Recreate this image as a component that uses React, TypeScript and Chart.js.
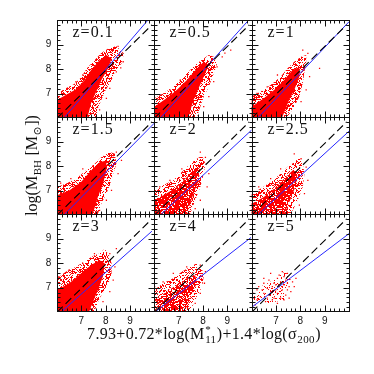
import React, { useEffect, useRef } from "react";
import { Chart, registerables } from "chart.js";

Chart.register(...registerables);

// ---------- data ----------
const Z_LABELS = ["0.1", "0.5", "1", "1.5", "2", "2.5", "3", "4", "5"];
const X_TICK_LABELS = [7, 8, 9];
const Y_TICK_LABELS = [7, 8, 9];
const X_RANGE = [6.0, 10.0];
const Y_RANGE = [6.05, 10.0];
const MINOR_STEP = 0.2;

// dashed reference relation (same in every panel)
const ONE_TO_ONE = [[6.0, 6.0], [9.9, 9.8]];

// blue fitted relation, one per panel
const FIT_LINES = [
  [[6.32, 6.05], [9.74, 10.0]],
  [[6.29, 6.05], [9.88, 10.0]],
  [[6.29, 6.05], [10.0, 9.93]],
  [[6.32, 6.05], [10.0, 9.75]],
  [[6.29, 6.05], [10.0, 9.47]],
  [[6.29, 6.05], [10.0, 9.42]],
  [[6.22, 6.05], [9.9, 9.3]],
  [[6.08, 6.05], [9.97, 9.04]],
  [[6.0, 6.2], [10.0, 9.2]],
];

// outer extent of each point cloud (sparser fringe)
const CLOUD_OUTER = [
  [[6.0, 6.99], [6.29, 7.18], [6.71, 7.39], [6.99, 7.66], [7.22, 8.03], [7.54, 8.36], [7.82, 8.66], [8.17, 8.88], [8.44, 8.93], [8.75, 8.64], [8.65, 8.23], [8.38, 7.89], [8.24, 7.55], [8.0, 7.15], [7.82, 6.74], [7.68, 6.41], [7.61, 6.05], [6.0, 6.05]],
  [[6.0, 6.81], [6.36, 7.01], [6.78, 7.28], [7.13, 7.62], [7.47, 7.96], [7.75, 8.23], [8.03, 8.43], [8.24, 8.57], [8.44, 8.5], [8.58, 8.23], [8.44, 7.82], [8.24, 7.28], [8.03, 6.88], [7.89, 6.47], [7.75, 6.05], [6.0, 6.05]],
  [[6.0, 6.88], [6.36, 7.08], [6.78, 7.35], [7.19, 7.69], [7.47, 8.03], [7.75, 8.3], [8.03, 8.5], [8.24, 8.57], [8.24, 8.3], [8.17, 7.89], [8.1, 7.42], [7.96, 6.88], [7.75, 6.47], [7.47, 6.05], [6.0, 6.05]],
  [[6.0, 7.15], [6.36, 7.28], [6.78, 7.49], [7.19, 7.82], [7.54, 8.09], [7.82, 8.36], [8.17, 8.57], [8.38, 8.5], [8.44, 8.09], [8.31, 7.69], [8.17, 7.22], [8.03, 6.88], [7.82, 6.47], [7.68, 6.05], [6.0, 6.05]],
  [[6.0, 7.01], [6.36, 7.22], [6.78, 7.42], [7.13, 7.76], [7.47, 8.09], [7.75, 8.3], [7.96, 8.43], [8.1, 8.09], [8.03, 7.69], [7.89, 7.15], [7.68, 6.61], [7.47, 6.05], [6.0, 6.05]],
  [[6.0, 6.88], [6.36, 7.08], [6.78, 7.35], [7.19, 7.69], [7.47, 7.96], [7.75, 8.16], [7.96, 8.36], [8.1, 8.09], [8.17, 7.69], [8.1, 7.15], [7.89, 6.61], [7.61, 6.05], [6.0, 6.05]],
  [[6.0, 7.38], [6.36, 7.65], [6.78, 7.85], [7.19, 8.12], [7.54, 8.32], [7.75, 8.39], [7.96, 8.59], [8.17, 8.26], [8.24, 7.99], [8.24, 7.45], [8.03, 7.04], [7.75, 6.57], [7.54, 6.05], [6.0, 6.05]],
  [[6.0, 6.91], [6.36, 7.18], [6.78, 7.38], [7.13, 7.65], [7.47, 7.85], [7.75, 7.99], [7.96, 7.78], [8.03, 7.45], [7.96, 7.04], [7.75, 6.64], [7.47, 6.05], [6.0, 6.05]],
  [[6.08, 6.91], [6.5, 7.11], [6.92, 7.31], [7.19, 7.58], [7.4, 7.65], [7.61, 7.31], [7.54, 6.91], [7.33, 6.5], [6.64, 6.36], [6.08, 6.5]],
];

// dense core of each point cloud
const CLOUD_CORE = [
  [[6.0, 6.74], [6.36, 6.95], [6.78, 7.18], [7.13, 7.55], [7.4, 7.96], [7.75, 8.36], [8.03, 8.57], [8.24, 8.43], [8.1, 8.03], [7.82, 7.55], [7.61, 7.08], [7.4, 6.61], [7.26, 6.05], [6.0, 6.05]],
  [[6.0, 6.47], [6.5, 6.81], [6.92, 7.15], [7.33, 7.55], [7.75, 8.03], [8.03, 8.3], [8.24, 8.16], [8.03, 7.69], [7.82, 7.22], [7.61, 6.74], [7.4, 6.05], [6.0, 6.05]],
  [[6.0, 6.47], [6.5, 6.81], [6.92, 7.15], [7.33, 7.55], [7.68, 7.96], [7.96, 8.09], [7.96, 7.69], [7.75, 7.15], [7.54, 6.74], [7.26, 6.05], [6.0, 6.05]],
  [[6.0, 6.81], [6.5, 7.01], [6.99, 7.35], [7.4, 7.82], [7.75, 8.16], [8.03, 8.23], [8.03, 7.82], [7.89, 7.28], [7.68, 6.74], [7.47, 6.05], [6.0, 6.05]],
  [[6.0, 6.61], [6.5, 6.88], [6.92, 7.15], [7.33, 7.55], [7.68, 7.89], [7.89, 7.89], [7.82, 7.42], [7.61, 6.88], [7.33, 6.05], [6.0, 6.05]],
  [[6.0, 6.47], [6.5, 6.74], [6.92, 7.08], [7.33, 7.49], [7.68, 7.82], [7.89, 7.76], [7.82, 7.22], [7.61, 6.68], [7.33, 6.05], [6.0, 6.05]],
  [[6.0, 6.91], [6.5, 7.18], [6.99, 7.58], [7.4, 7.92], [7.75, 8.12], [7.96, 7.99], [7.89, 7.45], [7.68, 6.91], [7.33, 6.05], [6.0, 6.05]],
  [[6.08, 6.5], [6.5, 6.84], [6.92, 7.11], [7.33, 7.38], [7.68, 7.51], [7.75, 7.18], [7.54, 6.77], [7.26, 6.05], [6.22, 6.05]],
  [],
];

// individual scattered points outside the dense clouds
const OUTLIERS = [
  [[8.51, 8.93], [8.31, 8.77], [8.72, 8.3], [8.44, 7.89], [8.17, 7.22], [8.03, 6.81], [7.75, 6.34], [6.78, 7.49], [6.43, 7.22], [7.06, 7.76], [8.58, 8.55], [8.62, 8.05]],
  [[9.14, 8.77], [8.79, 8.5], [8.58, 8.09], [8.44, 7.49], [8.24, 6.88], [8.03, 6.47], [7.06, 7.55], [6.64, 7.15], [6.29, 6.95], [8.9, 8.65]],
  [[8.79, 8.03], [8.31, 8.64], [8.1, 8.77], [8.38, 7.69], [8.24, 7.15], [8.03, 6.68], [7.06, 7.76], [6.64, 7.28], [6.22, 7.01]],
  [[8.44, 8.57], [8.65, 8.23], [8.31, 8.36], [8.51, 7.69], [8.24, 7.01], [8.03, 6.61], [7.75, 6.2], [7.06, 7.89], [6.57, 7.49], [6.15, 7.31]],
  [[7.89, 8.57], [8.1, 8.36], [8.24, 7.69], [8.17, 7.15], [7.89, 6.61], [7.68, 6.27], [7.13, 7.89], [6.64, 7.42], [6.22, 7.15]],
  [[7.75, 8.5], [8.03, 8.3], [8.24, 7.96], [8.31, 7.42], [8.17, 6.88], [7.96, 6.41], [7.19, 7.89], [6.78, 7.49], [6.29, 7.15]],
  [[8.44, 8.59], [8.17, 8.39], [8.38, 7.85], [8.31, 7.31], [8.17, 6.84], [7.89, 6.43], [7.54, 8.39], [7.06, 7.99], [6.5, 7.72], [6.08, 7.45]],
  [[7.89, 7.92], [8.1, 7.65], [8.06, 7.18], [7.89, 6.77], [7.68, 6.36], [7.33, 7.85], [6.78, 7.58], [6.36, 7.24], [6.01, 7.04]],
  [[6.08, 6.77], [6.22, 6.5], [6.29, 7.04], [6.36, 6.64], [6.43, 6.91], [6.5, 7.18], [6.5, 6.77], [6.64, 6.97], [6.64, 6.57], [6.71, 7.31], [6.78, 6.84], [6.85, 7.04], [6.85, 6.5], [6.92, 7.18], [6.92, 6.57], [6.99, 6.91], [7.06, 7.38], [7.06, 6.77], [7.13, 7.04], [7.19, 7.24], [7.19, 6.57], [7.26, 7.65], [7.26, 6.91], [7.33, 7.45], [7.33, 7.11], [7.4, 7.31], [7.4, 6.7], [7.47, 7.58], [7.47, 7.18], [7.54, 7.04], [7.54, 6.57], [7.61, 6.84], [7.68, 7.24], [7.75, 7.04], [7.82, 7.38], [6.22, 6.91], [6.57, 6.43], [7.06, 6.36], [6.78, 7.58], [6.5, 7.38], [7.13, 7.51], [7.33, 6.5], [6.15, 6.3], [6.01, 6.57], [7.26, 7.04], [6.99, 7.11], [6.71, 6.7], [7.47, 6.91]],
];

// ---------- styles ----------
const CORE_DENSITY = [1, 1, 1, 1, 0.85, 0.85, 1, 0.75, 0];
const OUTER_DENSITY = [0.45, 0.45, 0.45, 0.45, 0.4, 0.4, 0.45, 0.35, 0.14];
const SERIF = '"Liberation Serif", "DejaVu Serif", serif';
const SANS = '"Liberation Sans", "DejaVu Sans", sans-serif';
const INK = "#111";

function makeSpeckle(ctx: CanvasRenderingContext2D, density: number) {
  if (density >= 1) return "rgb(255,0,0)";
  const size = 29;
  const c = document.createElement("canvas");
  c.width = size;
  c.height = size;
  const g = c.getContext("2d")!;
  g.fillStyle = "rgb(255,0,0)";
  for (let j = 0; j < size; j++) {
    for (let i = 0; i < size; i++) {
      let h = Math.imul(i + 11, 374761393) ^ Math.imul(j + 7, 668265263);
      h = Math.imul(h ^ (h >>> 13), 1274126177);
      h = (h ^ (h >>> 16)) >>> 0;
      if (h % 1000 < density * 1000) g.fillRect(i, j, 1, 1);
    }
  }
  return ctx.createPattern(c, "repeat");
}

type Part = { t?: string; sub?: string; sup?: string };

function richWidth(ctx: CanvasRenderingContext2D, parts: Part[], main: string, small: string) {
  let w = 0;
  for (const p of parts) {
    if (p.t) {
      ctx.font = main;
      w += ctx.measureText(p.t).width;
    } else {
      ctx.font = small;
      w += Math.max(p.sub ? ctx.measureText(p.sub).width : 0, p.sup ? ctx.measureText(p.sup).width : 0) + 1;
    }
  }
  return w;
}

function drawRich(ctx: CanvasRenderingContext2D, parts: Part[], x: number, y: number, main: string, small: string, subDy: number, supDy: number) {
  let cx = x;
  ctx.textAlign = "left";
  ctx.textBaseline = "alphabetic";
  for (const p of parts) {
    if (p.t) {
      ctx.font = main;
      ctx.fillText(p.t, cx, y);
      cx += ctx.measureText(p.t).width;
    } else {
      ctx.font = small;
      let w = 0;
      if (p.sub) {
        ctx.fillText(p.sub, cx + 0.5, y + subDy);
        w = Math.max(w, ctx.measureText(p.sub).width);
      }
      if (p.sup) {
        ctx.fillText(p.sup, cx + 0.5, y + supDy);
        w = Math.max(w, ctx.measureText(p.sup).width);
      }
      cx += w + 1;
    }
  }
}

const X_TITLE: Part[] = [{ t: "7.93+0.72*log(M" }, { sup: "*", sub: "11" }, { t: ")+1.4*log(σ" }, { sub: "200" }, { t: ")" }];
const Y_TITLE: Part[] = [{ t: "log(M" }, { sub: "BH" }, { t: " [M" }, { sub: "⊙" }, { t: "])" }];

const panelPlugin = {
  id: "panelFrames",
  afterDraw(chart: any) {
    const ctx: CanvasRenderingContext2D = chart.ctx;
    ctx.save();
    ctx.strokeStyle = INK;
    ctx.fillStyle = INK;
    ctx.lineWidth = 1;
    for (let p = 0; p < 9; p++) {
      const r = Math.floor(p / 3);
      const c = p % 3;
      const xs = chart.scales["x" + c];
      const ys = chart.scales["y" + r];
      const L = Math.round(xs.left);
      const R = Math.round(xs.right);
      const T = Math.round(ys.top);
      const B = Math.round(ys.bottom);
      ctx.strokeRect(L + 0.5, T + 0.5, R - L, B - T);
      ctx.beginPath();
      const k0 = Math.ceil(X_RANGE[0] / MINOR_STEP - 1e-6);
      const k1 = Math.floor(X_RANGE[1] / MINOR_STEP + 1e-6);
      for (let k = k0; k <= k1; k++) {
        const v = k * MINOR_STEP;
        const px = Math.round(xs.getPixelForValue(v)) + 0.5;
        if (px <= L + 1 || px >= R) continue;
        const len = Math.abs(v - Math.round(v)) < 1e-6 ? 6 : 3;
        ctx.moveTo(px, B + 0.5);
        ctx.lineTo(px, B + 0.5 - len);
        ctx.moveTo(px, T + 0.5);
        ctx.lineTo(px, T + 0.5 + len);
      }
      const j0 = Math.ceil(Y_RANGE[0] / MINOR_STEP - 1e-6);
      const j1 = Math.floor(Y_RANGE[1] / MINOR_STEP + 1e-6);
      for (let k = j0; k <= j1; k++) {
        const v = k * MINOR_STEP;
        const py = Math.round(ys.getPixelForValue(v)) + 0.5;
        if (py <= T + 1 || py >= B) continue;
        const len = Math.abs(v - Math.round(v)) < 1e-6 ? 6 : 3;
        ctx.moveTo(L + 0.5, py);
        ctx.lineTo(L + 0.5 + len, py);
        ctx.moveTo(R + 0.5, py);
        ctx.lineTo(R + 0.5 - len, py);
      }
      ctx.stroke();
      ctx.font = "16px " + SERIF;
      ctx.textAlign = "left";
      ctx.textBaseline = "alphabetic";
      (ctx as any).letterSpacing = "1px";
      ctx.fillText("z=" + Z_LABELS[p], L + 15.5, T + 17);
      (ctx as any).letterSpacing = "0px";
    }
    // tick labels
    ctx.font = "10px " + SANS;
    ctx.textAlign = "center";
    ctx.textBaseline = "alphabetic";
    const bottom = chart.scales["y2"].bottom;
    for (let c = 0; c < 3; c++) {
      const xs = chart.scales["x" + c];
      for (const v of X_TICK_LABELS) ctx.fillText(String(v), xs.getPixelForValue(v), bottom + 12.5);
    }
    ctx.textBaseline = "middle";
    for (let r = 0; r < 3; r++) {
      const ys = chart.scales["y" + r];
      for (const v of Y_TICK_LABELS) ctx.fillText(String(v), 48.5, ys.getPixelForValue(v));
    }
    // axis titles
    const main = "16px " + SERIF;
    const small = "11px " + SERIF;
    const left = chart.scales["x0"].left;
    const right = chart.scales["x2"].right;
    (ctx as any).letterSpacing = "0.3px";
    const xw = richWidth(ctx, X_TITLE, main, small);
    drawRich(ctx, X_TITLE, (left + right) / 2 - xw / 2 + 1, 339, main, small, 4, -6);
    (ctx as any).letterSpacing = "0px";
    const top = chart.scales["y0"].top;
    const bot = chart.scales["y2"].bottom;
    const yw = richWidth(ctx, Y_TITLE, main, small);
    ctx.save();
    ctx.translate(37, (top + bot) / 2);
    ctx.rotate(-Math.PI / 2);
    drawRich(ctx, Y_TITLE, -yw / 2, 0, main, small, 4, -6);
    ctx.restore();
    ctx.restore();
  },
};

export default function App() {
  const ref = useRef<HTMLCanvasElement>(null);
  useEffect(() => {
    document.body.style.margin = "0";
    const canvas = ref.current!;
    const ctx = canvas.getContext("2d")!;
    const toPts = (arr: number[][]) => arr.map(([x, y]) => ({ x, y }));
    const datasets: any[] = [];
    for (let p = 0; p < 9; p++) {
      const r = Math.floor(p / 3);
      const c = p % 3;
      const xAxisID = "x" + c;
      const yAxisID = "y" + r;
      datasets.push({
        type: "line", data: toPts(ONE_TO_ONE), xAxisID, yAxisID,
        borderColor: "#000", borderWidth: 1.1, borderDash: [8, 4], pointRadius: 0, fill: false, tension: 0, order: 0,
      });
      datasets.push({
        type: "line", data: toPts(FIT_LINES[p]), xAxisID, yAxisID,
        borderColor: "#2626ff", borderWidth: 1, pointRadius: 0, fill: false, tension: 0, order: 0,
      });
      datasets.push({
        type: "scatter", data: toPts(OUTLIERS[p]), xAxisID, yAxisID,
        backgroundColor: "#ff0000", borderWidth: 0, pointRadius: 0.9, pointStyle: "rect", order: 1,
      });
      if (CLOUD_CORE[p].length) {
        datasets.push({
          type: "line", data: toPts(CLOUD_CORE[p]), xAxisID, yAxisID,
          borderColor: "rgba(0,0,0,0)", backgroundColor: makeSpeckle(ctx, CORE_DENSITY[p]),
          pointRadius: 0, fill: "shape", tension: 0, order: 2,
        });
      }
      datasets.push({
        type: "line", data: toPts(CLOUD_OUTER[p]), xAxisID, yAxisID,
        borderColor: "rgba(0,0,0,0)", backgroundColor: makeSpeckle(ctx, OUTER_DENSITY[p]),
        pointRadius: 0, fill: "shape", tension: 0, order: 3,
      });
    }
    const scales: any = {};
    for (const id of ["x0", "x1", "x2"]) {
      scales[id] = { type: "linear", position: "bottom", stack: "gx", min: X_RANGE[0], max: X_RANGE[1], display: false };
    }
    for (const id of ["y2", "y1", "y0"]) {
      scales[id] = { type: "linear", position: "left", stack: "gy", min: Y_RANGE[0], max: Y_RANGE[1], display: false };
    }
    const chart = new Chart(canvas, {
      type: "scatter",
      data: { datasets },
      options: {
        responsive: false,
        animation: false,
        events: [],
        layout: { padding: { left: 57, top: 20, right: 25, bottom: 63 } },
        plugins: { legend: { display: false }, tooltip: { enabled: false }, filler: { drawTime: "beforeDatasetsDraw" } as any },
        scales,
      } as any,
      plugins: [panelPlugin as any],
    });
    return () => chart.destroy();
  }, []);
  return (
    <div style={{ position: "absolute", left: 0, top: 0, width: 374, height: 374, background: "#fff" }}>
      <canvas ref={ref} width={374} height={374} style={{ display: "block", width: 374, height: 374 }} />
    </div>
  );
}
